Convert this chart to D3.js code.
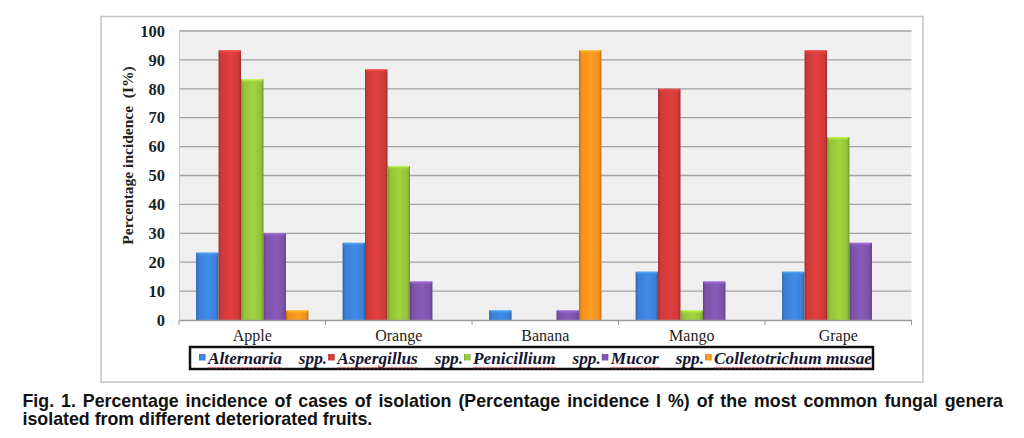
<!DOCTYPE html>
<html><head><meta charset="utf-8">
<script src="https://cdn.jsdelivr.net/npm/d3@7"></script>
<style>html,body{margin:0;padding:0;background:#fff;}svg{display:block;}</style>
</head><body>
<svg id="chart" width="1024" height="438"></svg>
<script>
const categories = ["Apple", "Orange", "Banana", "Mango", "Grape"];
const seriesNames = ["Alternaria", "Aspergillus", "Penicillium", "Mucor", "Colletotrichum musae"];
const seriesSuffix = ["spp.", "spp.", "spp.", "spp.", ""];
const alternaria = [23.3, 26.7, 3.3, 16.7, 16.7];
const aspergillus = [93.3, 86.7, 0, 80, 93.3];
const penicillium = [83.3, 53.3, 0, 3.3, 63.3];
const mucor = [30, 13.3, 3.3, 13.3, 26.7];
const colletotrichum = [3.3, 0, 93.3, 0, 0];
const yTicks = [0, 10, 20, 30, 40, 50, 60, 70, 80, 90, 100];
const colors = ["#3b7fd6", "#cf3a3a", "#94c23a", "#7d52a9", "#f3901f"];
const yTitle = "Percentage incidence  (I%)";
const captionLines = ["Fig. 1. Percentage incidence of cases of isolation (Percentage incidence I %) of the most common fungal genera",
                      "isolated from different deteriorated fruits."];

const series = [alternaria, aspergillus, penicillium, mucor, colletotrichum];
const svg = d3.select("#chart");
const serif = "'Liberation Serif','Times New Roman',serif";
const sans = "'Liberation Sans',Arial,sans-serif";

const plot = {left: 179, right: 911.5, top: 31, bottom: 320};
const x0 = d3.scaleBand().domain(categories).range([plot.left, plot.right]).paddingInner(0).paddingOuter(0);
const x1 = d3.scaleBand().domain(d3.range(series.length)).range([17.1, x0.bandwidth() - 17.1]);
const y = d3.scaleLinear().domain([0, 100]).range([plot.bottom, plot.top]);

// gradients
const defs = svg.append("defs");
colors.forEach((c, i) => {
  const g = defs.append("linearGradient").attr("id", "g" + i).attr("x1", 0).attr("x2", 1).attr("y1", 0).attr("y2", 0);
  const dark = d3.color(c).darker(0.7), light = d3.color(c).brighter(0.25);
  g.append("stop").attr("offset", "0%").attr("stop-color", dark);
  g.append("stop").attr("offset", "12%").attr("stop-color", c);
  g.append("stop").attr("offset", "55%").attr("stop-color", light);
  g.append("stop").attr("offset", "88%").attr("stop-color", c);
  g.append("stop").attr("offset", "100%").attr("stop-color", dark);
  const t = defs.append("linearGradient").attr("id", "t" + i).attr("x1", 0).attr("x2", 0).attr("y1", 0).attr("y2", 1);
  t.append("stop").attr("offset", "0%").attr("stop-color", d3.color(c).brighter(0.9));
  t.append("stop").attr("offset", "100%").attr("stop-color", c).attr("stop-opacity", 0);
});

// outer frame
svg.append("rect").attr("x", 101).attr("y", 16.5).attr("width", 822).attr("height", 365.5)
  .attr("fill", "#fff").attr("stroke", "#c4c4c4").attr("stroke-width", 1.5);

// plot background
svg.append("rect").attr("x", plot.left).attr("y", plot.top).attr("width", plot.right - plot.left)
  .attr("height", plot.bottom - plot.top).attr("fill", "#efefef");

// gridlines
svg.append("g").selectAll("line").data(yTicks.filter(d => d > 0)).join("line")
  .attr("x1", plot.left).attr("x2", plot.right).attr("y1", d => y(d)).attr("y2", d => y(d))
  .attr("stroke", "#a3a3a3").attr("stroke-width", 1.3);

// y axis
const yAxis = svg.append("g").attr("transform", `translate(${plot.left},0)`)
  .call(d3.axisLeft(y).tickValues(yTicks).tickSize(0).tickPadding(14));
yAxis.select(".domain").attr("stroke", "#c8c8c8").attr("stroke-width", 1);
yAxis.selectAll("text").attr("font-family", serif).attr("font-size", 16.5).attr("font-weight", "bold").attr("fill", "#222");

// bars
const groups = svg.append("g").selectAll("g").data(categories).join("g")
  .attr("transform", d => `translate(${x0(d)},0)`);
groups.each(function(cat, ci) {
  const g = d3.select(this);
  series.forEach((s, si) => {
    const v = s[ci];
    if (v <= 0) return;
    const bx = x1(si), bw = x1.bandwidth(), by = y(v), bh = y(0) - y(v);
    g.append("rect").attr("x", bx).attr("y", by).attr("width", bw).attr("height", bh)
      .attr("fill", `url(#g${si})`);
    g.append("rect").attr("x", bx + 1).attr("y", by).attr("width", bw - 2).attr("height", Math.min(4, bh))
      .attr("fill", `url(#t${si})`);
  });
});

// x axis
const xAxis = svg.append("g").attr("transform", `translate(0,${plot.bottom})`)
  .call(d3.axisBottom(x0).tickSize(0).tickPadding(10));
xAxis.select(".domain").attr("stroke", "#9a9a9a").attr("stroke-width", 1.3);
xAxis.selectAll("text").attr("font-family", serif).attr("font-size", 16).attr("fill", "#222");
const bounds = categories.map(c => x0(c)).concat([plot.right]);
xAxis.selectAll("line.sep").data(bounds).join("line").attr("class", "sep")
  .attr("x1", d => d).attr("x2", d => d).attr("y1", 0).attr("y2", 5)
  .attr("stroke", "#9a9a9a").attr("stroke-width", 1);

// y title
svg.append("text").attr("transform", "translate(133,155.5) rotate(-90)")
  .attr("text-anchor", "middle").attr("font-family", serif).attr("font-size", 15.5)
  .attr("font-weight", "bold").attr("fill", "#222").attr("xml:space", "preserve").text(yTitle);

// legend
svg.append("rect").attr("x", 190).attr("y", 347).attr("width", 683).attr("height", 22)
  .attr("fill", "#fff").attr("stroke", "#111").attr("stroke-width", 2.5);
const leg = svg.append("g");
const ly = 364, legStart = 199, legEnd = 872, legFont = 17.3;
const mk = (txt, x) => leg.append("text").attr("x", x).attr("y", ly).attr("font-family", serif)
  .attr("font-size", legFont).attr("font-weight", "bold").attr("font-style", "italic").attr("fill", "#151530").text(txt);
// measure
const nameNodes = seriesNames.map(n => mk(n, 0));
const sppNodes = seriesSuffix.map(s => s ? mk(s, 0) : null);
const nameW = nameNodes.map(n => n.node().getComputedTextLength());
const sppW = sppNodes.map(n => n ? n.node().getComputedTextLength() : 0);
const nGaps = seriesSuffix.filter(s => s).length;
const used = seriesNames.length * 9 + d3.sum(nameW) + d3.sum(sppW) + nGaps;
const gap = (legEnd - legStart - used) / nGaps;
let lx = legStart;
seriesNames.forEach((name, i) => {
  leg.append("rect").attr("x", lx).attr("y", 354).attr("width", 6.5).attr("height", 6.5)
    .attr("fill", `url(#g${i})`);
  lx += 9;
  nameNodes[i].attr("x", lx);
  const w = nameW[i], sx = lx;
  leg.append("path").attr("d", () => {
    let p = `M${sx},${ly + 3}`;
    for (let k = 0; k * 2 < w; k++) p += `L${sx + k * 2 + 1},${ly + 3 + (k % 2 ? 0 : 1.2)}`;
    return p;
  }).attr("fill", "none").attr("stroke", "#d04040").attr("stroke-width", 0.7);
  lx += w;
  if (sppNodes[i]) {
    lx += gap;
    sppNodes[i].attr("x", lx);
    lx += sppW[i] + 1;
  }
});

// caption
const capLeft = 22.5, capRight = 1003;
captionLines.forEach((line, i) => {
  const t = svg.append("text").attr("x", capLeft).attr("y", 407 + i * 18)
    .attr("font-family", sans).attr("font-size", 17.8).attr("font-weight", "bold").attr("fill", "#111").text(line);
  if (i === 0) {
    const w = t.node().getComputedTextLength();
    const spaces = line.split(" ").length - 1;
    t.attr("word-spacing", (capRight - capLeft - w) / spaces);
  }
});
</script>
</body></html>
